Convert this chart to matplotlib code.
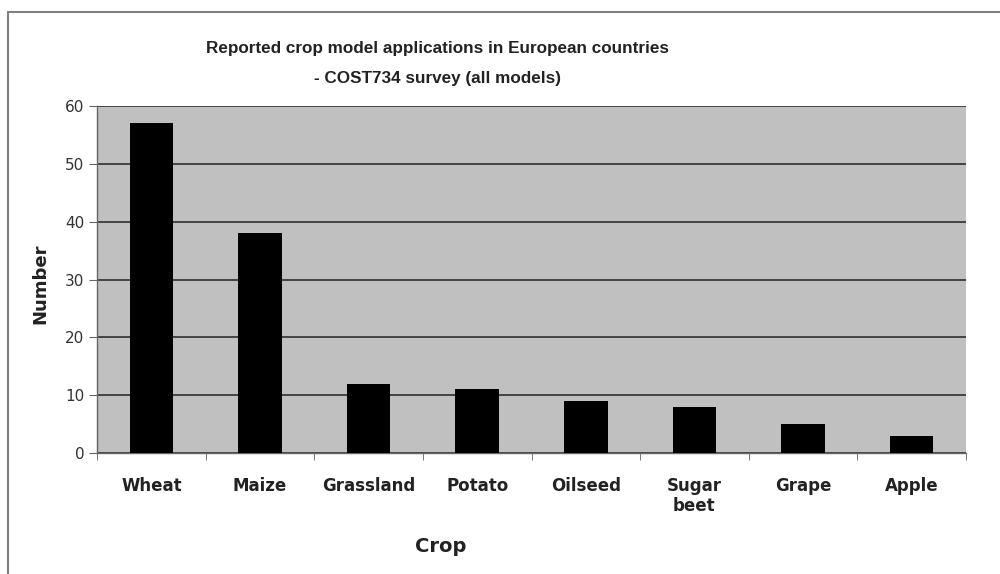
import matplotlib
matplotlib.use("Agg")
import matplotlib.pyplot as plt
from matplotlib.patches import Rectangle
import numpy as np

crops = ["Wheat", "Maize", "Grassland", "Potato", "Oilseed", "Sugar\nbeet", "Grape", "Apple"]
counts = [57, 38, 12, 11, 9, 8, 5, 3]
y_ticks = [0, 10, 20, 30, 40, 50, 60]

plt.rcParams["font.family"] = ["DejaVu Sans"]

W, H = 1000, 574
fig = plt.figure(figsize=(W / 100, H / 100), dpi=100)
ax = fig.add_axes([0.097, 0.2108, 0.869, 0.6045])

# outer chart frame, running off the right and bottom edges
fig.patches.append(Rectangle((0.008, -0.05), 1.2, 0.029 + 1.0, transform=fig.transFigure,
                             fill=False, edgecolor="#808080", linewidth=1.5))

x = np.arange(len(crops))
ax.set_facecolor("#c0c0c0")
ax.bar(x, counts, width=0.4, color="black", zorder=3)

ax.set_xlim(-0.5, len(crops) - 0.5)
ax.set_ylim(0, 60)
ax.set_yticks(y_ticks)
ax.set_yticklabels([str(v) for v in y_ticks], fontsize=11, color="#333333")
ax.yaxis.grid(True, color="#3a3a3a", linewidth=1.3, zorder=1)

ax.set_xticks(x)
ax.set_xticklabels(crops, fontsize=12, fontweight="bold", color="#222222", linespacing=1.2)
ax.set_xticks(np.arange(len(crops) + 1) - 0.5, minor=True)
ax.tick_params(axis="x", which="major", length=0, pad=17)
ax.tick_params(axis="x", which="minor", length=5, color="#666666", direction="out")
ax.tick_params(axis="y", length=6, color="#666666", direction="out", pad=3)

for side in ["top", "right"]:
    ax.spines[side].set_visible(False)
for side in ["left", "bottom"]:
    ax.spines[side].set_color("#666666")
    ax.spines[side].set_linewidth(1.0)

fig.text(40 / W, 1 - 284 / H, "Number", rotation=90, ha="center", va="center",
         fontsize=13, fontweight="bold", color="#222222")
fig.text(441 / W, 1 - 546 / H, "Crop", ha="center", va="center",
         fontsize=14, fontweight="bold", color="#222222")
title_font = dict(ha="center", va="center", fontsize=12.3, fontweight="bold",
                  color="#222222", family=["Liberation Sans", "DejaVu Sans"])
fig.text(437 / W, 1 - 49 / H, "Reported crop model applications in European countries", **title_font)
fig.text(437 / W, 1 - 79 / H, "- COST734 survey (all models)", **title_font)

fig.savefig("out.png", dpi=100)
